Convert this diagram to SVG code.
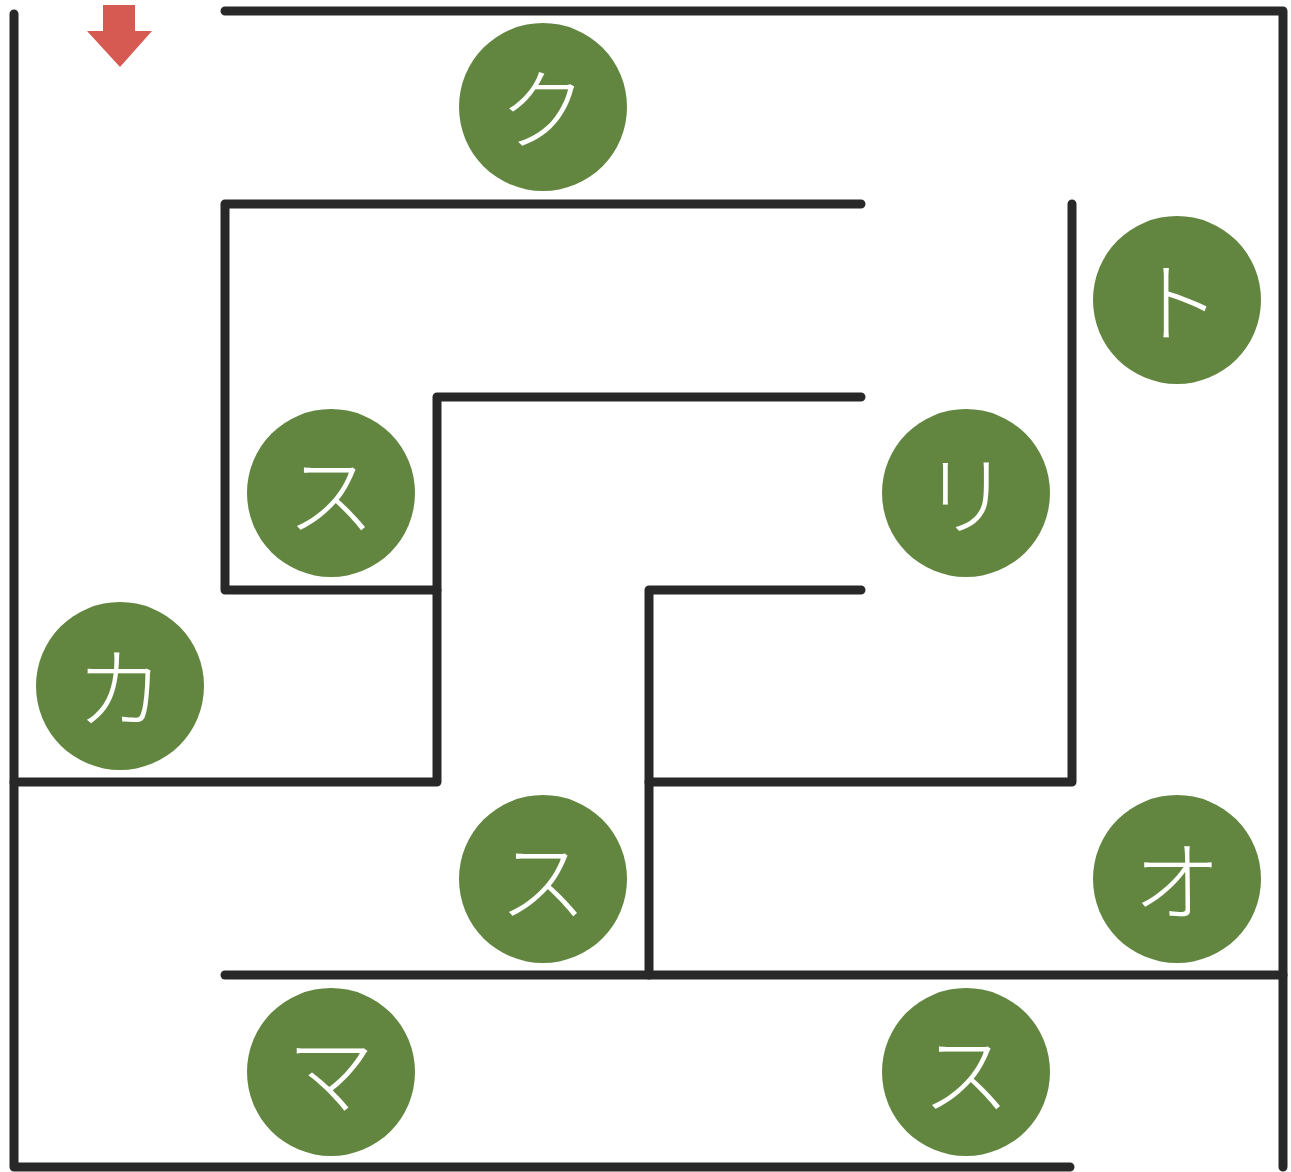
<svg xmlns="http://www.w3.org/2000/svg" width="1291" height="1172" viewBox="0 0 1291 1172">
<style>
.w{fill:none;stroke:#282828;stroke-width:9;stroke-linecap:round;stroke-linejoin:round}
.n{fill:#628640}
.t{fill:#ffffff;font-family:"Noto Sans CJK JP","Noto Sans CJK SC",sans-serif;font-weight:300;font-size:88px;text-anchor:middle;dominant-baseline:central}
</style>
<rect width="1291" height="1172" fill="#ffffff"/>
<g id="connectors">
<path class="w" d="M225,11 H1283 V1167"/>
<path class="w" d="M14,14 V1167 H1070"/>
<path class="w" d="M861,204 H225 V590 H437"/>
<path class="w" d="M861,397 H437 V782 H14"/>
<path class="w" d="M1072,204 V782 H649"/>
<path class="w" d="M861,590 H649 V975"/>
<path class="w" d="M225,975 H1283"/>
</g>
<g id="start">
<path d="M103,5 H135 V31 H152 L120,67 L87,31 H103 Z" fill="#d75a52"/>
</g>
<g id="n1"><circle class="n" cx="543" cy="107" r="84"/><text class="t" x="543" y="103">ク</text></g>
<g id="n2"><circle class="n" cx="1177" cy="300" r="84"/><text class="t" x="1177" y="296">ト</text></g>
<g id="n3"><circle class="n" cx="331" cy="493" r="84"/><text class="t" x="331" y="489">ス</text></g>
<g id="n4"><circle class="n" cx="966" cy="493" r="84"/><text class="t" x="966" y="489">リ</text></g>
<g id="n5"><circle class="n" cx="120" cy="686" r="84"/><text class="t" x="120" y="682">カ</text></g>
<g id="n6"><circle class="n" cx="543" cy="879" r="84"/><text class="t" x="543" y="875">ス</text></g>
<g id="n7"><circle class="n" cx="1177" cy="879" r="84"/><text class="t" x="1177" y="875">オ</text></g>
<g id="n8"><circle class="n" cx="331" cy="1072" r="84"/><text class="t" x="331" y="1068">マ</text></g>
<g id="n9"><circle class="n" cx="966" cy="1072" r="84"/><text class="t" x="966" y="1068">ス</text></g>
</svg>
